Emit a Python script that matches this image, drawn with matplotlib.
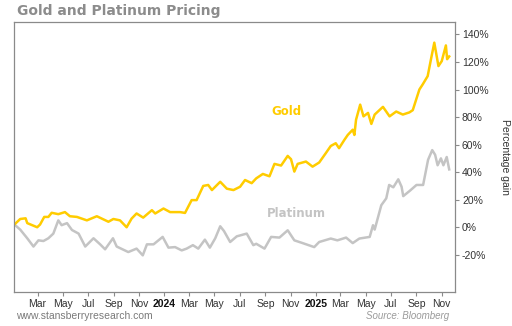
import matplotlib
matplotlib.use("Agg")
import matplotlib.pyplot as plt
import matplotlib.dates as mdates
import numpy as np
import pandas as pd

# gold, % gain since start
GOLD_DATES = ["2023-01-04", "2023-01-18", "2023-01-31", "2023-02-04", "2023-02-16", "2023-02-28",
              "2023-03-07", "2023-03-17", "2023-03-27", "2023-04-04", "2023-04-20", "2023-05-06",
              "2023-05-18", "2023-06-04", "2023-06-28", "2023-07-22", "2023-08-19", "2023-08-31",
              "2023-09-16", "2023-10-02", "2023-10-14", "2023-10-26", "2023-11-11", "2023-12-02",
              "2023-12-10", "2023-12-30", "2024-01-15", "2024-02-08", "2024-02-20", "2024-03-07",
              "2024-03-19", "2024-04-04", "2024-04-16", "2024-04-25", "2024-05-15", "2024-05-31",
              "2024-06-16", "2024-07-02", "2024-07-14", "2024-07-30", "2024-08-10", "2024-08-26",
              "2024-09-11", "2024-09-23", "2024-10-09", "2024-10-25", "2024-11-02", "2024-11-10",
              "2024-11-18", "2024-12-08", "2024-12-24", "2025-01-09", "2025-01-25", "2025-02-06",
              "2025-02-18", "2025-02-26", "2025-03-11", "2025-03-19", "2025-03-31", "2025-04-04",
              "2025-04-08", "2025-04-18", "2025-04-26", "2025-05-07", "2025-05-15", "2025-05-23",
              "2025-06-12", "2025-06-28", "2025-07-14", "2025-07-30", "2025-08-15", "2025-08-23",
              "2025-09-08", "2025-09-16", "2025-09-28", "2025-10-06", "2025-10-14", "2025-10-24",
              "2025-11-01", "2025-11-11", "2025-11-14", "2025-11-19"]
GOLD = [2, 6, 6.5, 3, 1.5, 0,
        2, 7.5, 7.5, 10.5, 9.5, 11,
        8, 7.5, 5, 8, 4, 6,
        5, 0, 6.3, 10, 7, 12.4,
        10, 13.6, 11, 11, 10.4, 19.7,
        19.7, 30, 30.7, 27, 33, 28,
        27, 29.4, 34.3, 32, 35.5, 38.7,
        37, 46, 44.8, 51.8, 49.4, 40.4,
        46, 47.7, 44, 47, 53.8, 59,
        61, 57.4, 63.5, 67, 70.8, 67,
        78, 89, 80.5, 83, 75, 81.8,
        87.4, 80.5, 84, 81.8, 83.4, 85,
        100, 103.7, 109.7, 122, 134, 117,
        120.6, 132, 122, 124]

PLAT_DATES = ["2023-01-04", "2023-01-18", "2023-02-04", "2023-02-19", "2023-03-03", "2023-03-15",
              "2023-03-27", "2023-04-08", "2023-04-20", "2023-04-28", "2023-05-11", "2023-05-23",
              "2023-06-08", "2023-06-24", "2023-07-14", "2023-07-30", "2023-08-11", "2023-08-30",
              "2023-09-08", "2023-10-06", "2023-10-26", "2023-11-10", "2023-11-20", "2023-12-06",
              "2023-12-28", "2024-01-11", "2024-01-27", "2024-02-12", "2024-02-24", "2024-03-10",
              "2024-03-23", "2024-04-08", "2024-04-20", "2024-05-03", "2024-05-15", "2024-05-24",
              "2024-06-08", "2024-06-24", "2024-07-18", "2024-08-03", "2024-08-10", "2024-08-30",
              "2024-09-15", "2024-10-05", "2024-10-25", "2024-11-10", "2024-11-30", "2024-12-28",
              "2025-01-09", "2025-02-06", "2025-02-22", "2025-03-15", "2025-03-31", "2025-04-16",
              "2025-05-11", "2025-05-19", "2025-05-23", "2025-06-08", "2025-06-20", "2025-06-27",
              "2025-07-07", "2025-07-19", "2025-07-27", "2025-07-31", "2025-08-16", "2025-09-01",
              "2025-09-17", "2025-09-29", "2025-10-09", "2025-10-16", "2025-10-22", "2025-10-30",
              "2025-11-05", "2025-11-13", "2025-11-19"]
PLATINUM = [2, -1.7, -8, -14, -9.5, -10,
            -8, -4.6, 5, 1.5, 3, -2,
            -4.6, -14, -8, -12.4, -16, -8,
            -14, -18, -15.5, -20.4, -12.4, -12.4,
            -7, -14.8, -14.4, -16.8, -15.5, -13,
            -15.5, -9, -14.8, -8, 0.7, -2.7,
            -10.7, -6.6, -4.6, -13, -12, -15.5,
            -7, -7.5, -2.2, -9.5, -11.5, -14.4,
            -10.7, -8.2, -9.5, -7.5, -11.5, -8.2,
            -7, 1.5, -1.7, 16, 21, 30.7,
            29, 34.8, 29.4, 22.6, 26.5, 30.7,
            30.7, 49, 56, 52.6, 45, 50,
            45, 51, 42]

Y_TICKS = [-20, 0, 20, 40, 60, 80, 100, 120, 140]

GOLD_C = "#ffcc00"
PLAT_C = "#c4c4c4"
FRAME = "#8a8a8a"
TXT = "#333333"

fig = plt.figure(figsize=(5.12, 3.26), dpi=100)
ax = fig.add_axes([14 / 512, 1 - 292 / 326, 441 / 512, 270 / 326])

ax.plot(pd.to_datetime(PLAT_DATES), PLATINUM, color=PLAT_C, lw=1.8, solid_joinstyle="round")
ax.plot(pd.to_datetime(GOLD_DATES), GOLD, color=GOLD_C, lw=1.8, solid_joinstyle="round")

ax.set_xlim(pd.Timestamp("2023-01-03"), pd.Timestamp("2025-12-03"))
ax.set_ylim(-47, 149)

for s in ax.spines.values():
    s.set_color(FRAME)
    s.set_linewidth(0.9)

ax.yaxis.tick_right()
ax.set_yticks(Y_TICKS)
ax.set_yticklabels([f"{v}%" for v in Y_TICKS])
ax.tick_params(axis="y", colors=FRAME, labelcolor=TXT, labelsize=7.5,
               length=3, width=0.8, pad=2)
ax.set_ylabel("Percentage gain", rotation=-90, labelpad=15, fontsize=7.5, color=TXT)
ax.yaxis.set_label_position("right")

ax.xaxis.set_major_locator(mdates.MonthLocator(bymonth=[1, 3, 5, 7, 9, 11]))
def fmt(x, pos=None):
    d = mdates.num2date(x)
    return str(d.year) if d.month == 1 else d.strftime("%b")
ax.xaxis.set_major_formatter(plt.FuncFormatter(fmt))
ax.tick_params(axis="x", colors=FRAME, labelcolor=TXT, labelsize=7.5,
               length=3, width=0.8, pad=2)
fig.canvas.draw()
for lab in ax.get_xticklabels():
    if lab.get_text().isdigit():
        lab.set_fontweight("bold")
        lab.set_color("#111111")

for lab in ax.get_xticklabels() + ax.get_yticklabels():
    lab.set_family("Liberation Sans")
ax.yaxis.label.set_family("Liberation Sans")

ax.text(pd.Timestamp("2024-10-23"), 84, "Gold", color=GOLD_C, fontsize=8.5,
        fontweight="bold", ha="center", va="center")
ax.text(pd.Timestamp("2024-11-15"), 10, "Platinum", color=PLAT_C, fontsize=8.5,
        fontweight="bold", ha="center", va="center")

fig.text(17 / 512, 1 - 11 / 326, "Gold and Platinum Pricing", fontsize=10,
         fontweight="bold", color="#8c8c8c", va="center", ha="left")
fig.text(16 / 512, 1 - 316 / 326, "www.stansberryresearch.com", fontsize=7.5,
         color="#7a7a7a", va="center", ha="left", family="Liberation Sans")
fig.text(449 / 512, 1 - 316 / 326, "Source: Bloomberg", fontsize=7,
         color="#9a9a9a", style="italic", va="center", ha="right", family="Liberation Sans")

fig.savefig("out.png", dpi=100, facecolor="white")
